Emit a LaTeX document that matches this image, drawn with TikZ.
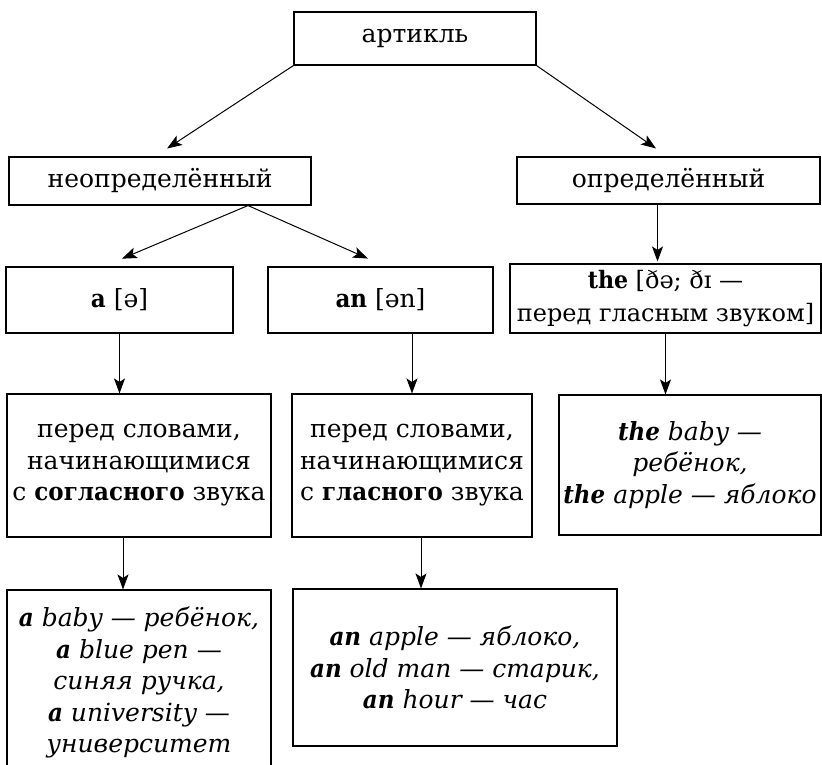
\documentclass[tikz,border=0pt]{standalone}
\usepackage{fontspec}
\setmainfont{DejaVu Serif}[BoldFeatures={FakeStretch=0.92}, BoldItalicFeatures={FakeStretch=0.92}]
\usetikzlibrary{arrows.meta}

\begin{document}
\begin{tikzpicture}[x=1pt, y=-1pt,
	box/.style={draw, line width=1.1pt, align=center, inner sep=0pt, font=\fontsize{25}{31.5}\selectfont},
	arr/.style={-{Stealth[length=15pt, width=11pt, inset=3.5pt]}, line width=1pt}]
	%%%%% START %%%%%
	
	\useasboundingbox (0, 0) rectangle (822, 765);
	
	\node[box, minimum width=242pt, minimum height=53pt] (art) at (415, 38.5) {артикль};
	
	\node[box, minimum width=302pt, minimum height=48pt] (indef) at (160, 181) {неопределённый};
	\node[box, minimum width=303pt, minimum height=47pt] (def) at (668.5, 180.5) {определённый};
	
	\node[box, minimum width=227pt, minimum height=66pt] (a) at (119.5, 300) {\textbf{a} [ə]};
	\node[box, minimum width=225pt, minimum height=66pt] (an) at (380.5, 300) {\textbf{an} [ən]};
	\node[box, minimum width=311pt, minimum height=69pt, font=\fontsize{24}{33}\selectfont] (the) at (665.5, 298.5) {\textbf{the} [ðə; ðɪ —\\перед гласным звуком]};
	
	\node[box, minimum width=264pt, minimum height=143pt] (cons) at (139, 465.5) {перед словами,\\начинающимися\\с \textbf{согласного} звука};
	\node[box, minimum width=240pt, minimum height=143pt] (vow) at (412, 465.5) {перед словами,\\начинающимися\\с \textbf{гласного} звука};
	\node[box, minimum width=262pt, minimum height=140pt] (theex) at (690, 465) {\textit{\textbf{the} baby —}\\\textit{ребёнок,}\\\textit{\textbf{the} apple — яблоко}};
	
	\node[box, minimum width=264pt, minimum height=185pt] (aex) at (139, 682.5) {\textit{\textbf{a} baby — ребёнок,}\\\textit{\textbf{a} blue pen —}\\\textit{синяя ручка,}\\\textit{\textbf{a} university —}\\\textit{университет}};
	\node[box, minimum width=324pt, minimum height=157pt] (anex) at (455, 667.5) {\textit{\textbf{an} apple — яблоко,}\\\textit{\textbf{an} old man — старик,}\\\textit{\textbf{an} hour — час}};
	
	\coordinate (indefout) at ([xshift=88pt]indef.south);
	\coordinate (defout) at ([xshift=-11pt]def.south);
	\coordinate (consout) at ([xshift=-16pt]cons.south);
	\coordinate (vowout) at ([xshift=9pt]vow.south);
	
	\draw[arr, shorten >=14.4pt] (art.south west) -- ([xshift=-5pt]indef.north);
	\draw[arr, shorten >=14pt] (art.south east) -- ([xshift=-1pt]def.north);
	
	\draw[arr, shorten >=20pt] (indefout) -- ([xshift=-16pt]a.north);
	\draw[arr, shorten >=19.5pt] (indefout) -- ([xshift=5.3pt]an.north);
	\draw[arr, shorten >=2pt] (defout) -- (defout |- the.north);
	
	\draw[arr] (a.south) -- (a.south |- cons.north);
	\draw[arr] (vow.north |- an.south) -- (vow.north);
	\draw[arr] (the.south) -- (the.south |- theex.north);
	
	\draw[arr] (consout) -- (consout |- aex.north);
	\draw[arr] (vowout) -- (vowout |- anex.north);
	
	%%%%% END %%%%%
\end{tikzpicture}
\end{document}
